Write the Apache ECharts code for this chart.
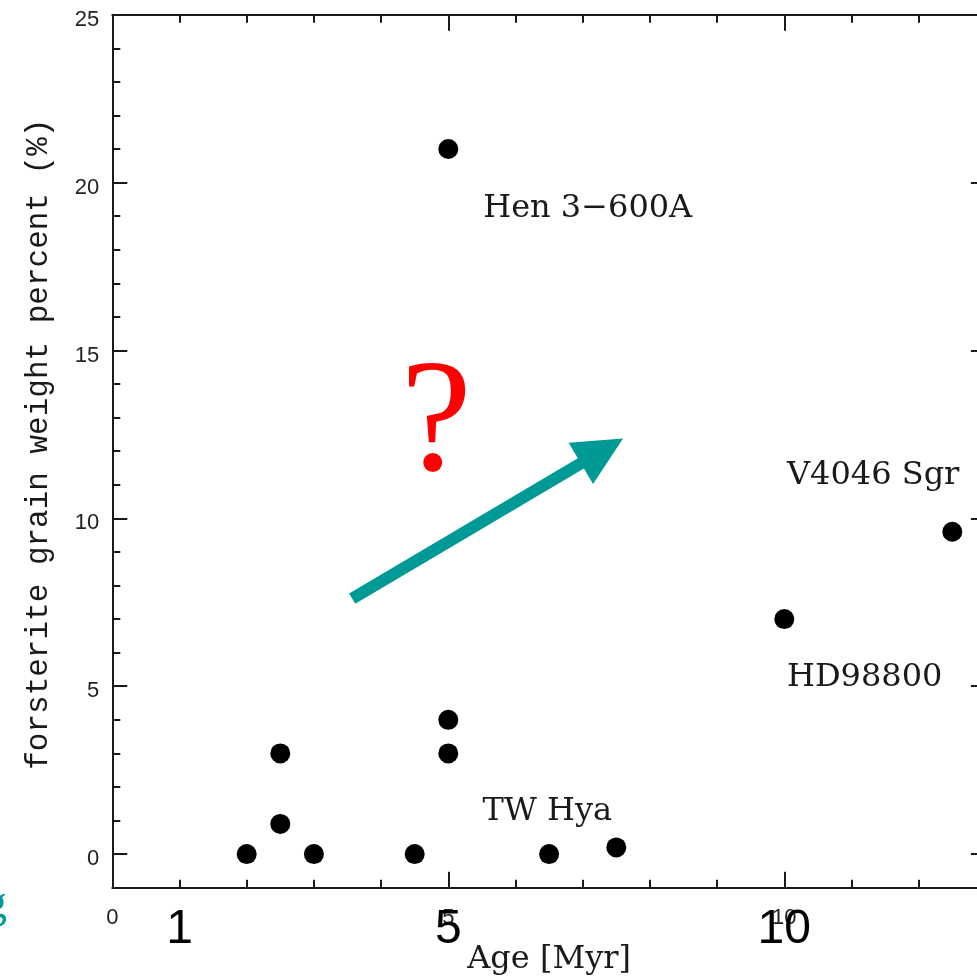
<!DOCTYPE html>
<html>
<head>
<meta charset="utf-8">
<title>Forsterite vs age</title>
<script src="https://cdn.jsdelivr.net/npm/echarts@6/dist/echarts.min.js"></script>
<style>
  html, body { margin: 0; padding: 0; background: #fff; }
  #chart { width: 977px; height: 979px; }
</style>
</head>
<body>
<div id="chart"></div>
<script>
// Stellar ages (Myr) and forsterite grain weight percent
const ages       = [2.0, 2.5, 2.5, 3.0, 4.5, 5.0, 5.0, 5.0, 6.5, 7.5, 10.0, 12.5];
const forsterite = [0.0, 3.0, 0.9, 0.0, 0.0, 21.0, 4.0, 3.0, 0.0, 0.2, 7.0, 9.6];

// Axis extents and tick values
const xRange = [0, 13];
const yRange = [-1, 25];
const xMajorTicks = [0, 5, 10];
const xMinorTicks = [1, 2, 3, 4, 6, 7, 8, 9, 11, 12];
const xTickLabels = [0, 5, 10];
const xBigLabels  = [1, 5, 10];
const yMajorTicks = [0, 5, 10, 15, 20, 25];
const yMinorTicks = [1, 2, 3, 4, 6, 7, 8, 9, 11, 12, 13, 14, 16, 17, 18, 19, 21, 22, 23, 24];
const yTickLabels = [0, 5, 10, 15, 20, 25];

// Star names, anchored in data space (left edge, vertical middle)
const starNames   = ['Hen 3\u2212600A', 'V4046 Sgr', 'HD98800', 'TW Hya'];
const starAnchors = [[5.52, 19.22], [10.04, 11.27], [10.04, 5.25], [5.51, 1.26]];

// Trend arrow (data space) and question mark
const arrowFrom = [3.57, 7.61];
const arrowTo   = [7.60, 12.38];
const questionAt = [4.82, 12.7];

const ink = '#1a1a1a';
const teal = '#009a96';

const chart = echarts.init(document.getElementById('chart'), null, { renderer: 'canvas' });

function valueAxis(base, extra) {
  const axis = Object.assign({
    type: 'value',
    min: base[0], max: base[1],
    splitLine: { show: false },
    axisTick: { show: false },
    axisLabel: { show: false },
    nameMoveOverlap: false
  }, extra);
  axis.axisLine = Object.assign({ show: false }, extra.axisLine || {}, { onZero: false });
  return axis;
}

const lineStyle = { color: ink, width: 2 };

const option = {
  animation: false,
  backgroundColor: '#fff',
  grid: { left: 112.3, top: 14.7, width: 873.6, height: 873, outerBoundsMode: 'none' },
  xAxis: [
    valueAxis(xRange, {
      position: 'bottom',
      axisLine: { show: true, lineStyle },
      axisTick: { show: true, inside: true, length: 16, customValues: xMajorTicks, lineStyle },
      axisLabel: {
        show: true, customValues: xTickLabels, margin: 19,
        fontFamily: 'Liberation Sans', fontSize: 22, color: '#222'
      },
      name: 'Age [Myr]',
      nameLocation: 'middle',
      nameGap: 56,
      nameTextStyle: { fontFamily: 'DejaVu Serif', fontSize: 32, color: ink }
    }),
    valueAxis(xRange, {
      position: 'bottom',
      axisTick: { show: true, inside: true, length: 8, customValues: xMinorTicks, lineStyle }
    }),
    valueAxis(xRange, {
      position: 'top',
      axisLine: { show: true, lineStyle },
      axisTick: { show: true, inside: true, length: 16, customValues: xMajorTicks, lineStyle }
    }),
    valueAxis(xRange, {
      position: 'top',
      axisTick: { show: true, inside: true, length: 8, customValues: xMinorTicks, lineStyle }
    }),
    valueAxis(xRange, {
      position: 'bottom',
      axisLabel: {
        show: true, customValues: xBigLabels, margin: 18,
        fontFamily: 'Liberation Sans', fontSize: 48, color: '#000'
      }
    })
  ],
  yAxis: [
    valueAxis(yRange, {
      position: 'left',
      axisLine: { show: true, lineStyle },
      axisTick: { show: true, inside: true, length: 15, customValues: yMajorTicks, lineStyle },
      axisLabel: {
        show: true, customValues: yTickLabels, margin: 13,
        fontFamily: 'Liberation Sans', fontSize: 22, color: '#222',
        verticalAlign: 'top', lineHeight: 10
      },
      name: 'forsterite grain weight percent (%)',
      nameLocation: 'middle',
      nameRotate: 90,
      nameGap: 58,
      nameTextStyle: {
        fontFamily: 'Liberation Mono', fontSize: 31, color: ink,
        padding: [0, 0, 0, 14]
      }
    }),
    valueAxis(yRange, {
      position: 'left',
      axisTick: { show: true, inside: true, length: 8, customValues: yMinorTicks, lineStyle }
    }),
    valueAxis(yRange, {
      position: 'right',
      axisLine: { show: true, lineStyle },
      axisTick: { show: true, inside: true, length: 15, customValues: yMajorTicks, lineStyle }
    }),
    valueAxis(yRange, {
      position: 'right',
      axisTick: { show: true, inside: true, length: 8, customValues: yMinorTicks, lineStyle }
    })
  ],
  series: [
    {
      type: 'scatter',
      xAxisIndex: 0, yAxisIndex: 0,
      symbol: 'circle',
      symbolSize: 20,
      itemStyle: { color: '#000', opacity: 1 },
      data: ages.map((a, i) => [a, forsterite[i]]),
      z: 5
    },
    {
      // star name labels
      type: 'custom',
      xAxisIndex: 0, yAxisIndex: 0,
      clip: false,
      silent: true,
      data: starNames.map((n, i) => [starAnchors[i][0], starAnchors[i][1], n]),
      renderItem: function (params, api) {
        const p = api.coord([api.value(0), api.value(1)]);
        return {
          type: 'text',
          x: p[0], y: p[1],
          style: {
            text: starNames[params.dataIndex],
            fontFamily: 'DejaVu Serif', fontSize: 32,
            fill: ink, align: 'left', verticalAlign: 'middle'
          }
        };
      },
      z: 6
    },
    {
      // trend arrow and question mark
      type: 'custom',
      xAxisIndex: 0, yAxisIndex: 0,
      clip: false,
      silent: true,
      data: [[arrowFrom[0], arrowFrom[1], arrowTo[0], arrowTo[1]]],
      renderItem: function (params, api) {
        const s = api.coord([api.value(0), api.value(1)]);
        const e = api.coord([api.value(2), api.value(3)]);
        const dx = e[0] - s[0], dy = e[1] - s[1];
        const len = Math.sqrt(dx * dx + dy * dy);
        const ux = dx / len, uy = dy / len;
        const nx = -uy, ny = ux;
        const headLen = 49, headHalf = 24, shaft = 12;
        const bx = e[0] - ux * headLen, by = e[1] - uy * headLen;
        const q = api.coord(questionAt);
        return {
          type: 'group',
          children: [
            {
              type: 'line',
              shape: { x1: s[0], y1: s[1], x2: bx + ux * 3, y2: by + uy * 3 },
              style: { stroke: teal, lineWidth: shaft, lineCap: 'butt' }
            },
            {
              type: 'polygon',
              shape: { points: [[e[0], e[1]], [bx + nx * headHalf, by + ny * headHalf], [bx - nx * headHalf, by - ny * headHalf]] },
              style: { fill: teal }
            },
            {
              type: 'text',
              x: q[0], y: q[1],
              style: {
                text: '?', fontFamily: 'Liberation Serif', fontSize: 160,
                fill: '#ff0000', align: 'center', verticalAlign: 'middle'
              }
            }
          ]
        };
      },
      z: 7
    }
  ],
  graphic: [
    {
      // clipped caption fragment at the left edge
      type: 'text',
      right: 970,
      top: 882,
      style: { text: 'g', fontFamily: 'Liberation Serif', fontSize: 46, fill: teal }
    }
  ]
};

chart.setOption(option);
</script>
</body>
</html>
